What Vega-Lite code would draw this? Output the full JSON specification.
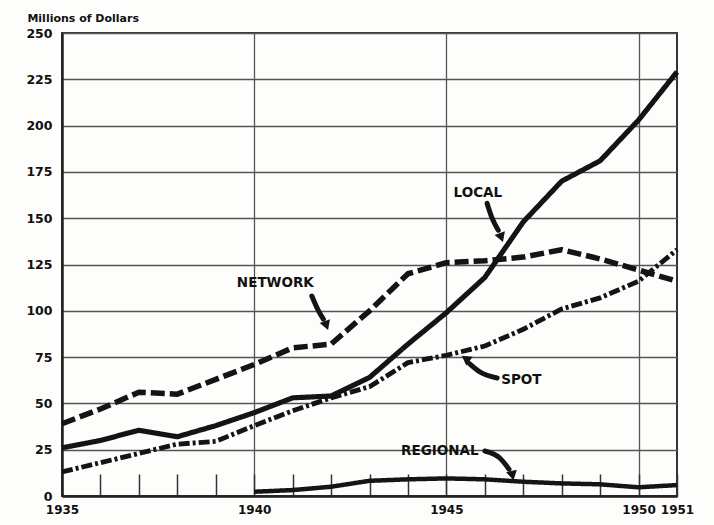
{
  "$schema": "https://vega.github.io/schema/vega-lite/v6.json",
  "width": 615,
  "height": 463,
  "autosize": {"type": "none"},
  "padding": {"left": 62, "top": 33, "right": 37, "bottom": 29},
  "background": "#fdfdfb",
  "config": {
    "view": {"stroke": "#333", "strokeWidth": 2},
    "font": "DejaVu Sans"
  },
  "datasets": {
    "series": [
      {"series": "Network", "year": 1935, "value": 39},
      {"series": "Network", "year": 1936, "value": 47},
      {"series": "Network", "year": 1937, "value": 56},
      {"series": "Network", "year": 1938, "value": 55},
      {"series": "Network", "year": 1939, "value": 63},
      {"series": "Network", "year": 1940, "value": 71},
      {"series": "Network", "year": 1941, "value": 80},
      {"series": "Network", "year": 1942, "value": 82},
      {"series": "Network", "year": 1943, "value": 100},
      {"series": "Network", "year": 1944, "value": 120},
      {"series": "Network", "year": 1945, "value": 126},
      {"series": "Network", "year": 1946, "value": 127},
      {"series": "Network", "year": 1947, "value": 129},
      {"series": "Network", "year": 1948, "value": 133},
      {"series": "Network", "year": 1949, "value": 128},
      {"series": "Network", "year": 1950, "value": 122},
      {"series": "Network", "year": 1951, "value": 116},
      {"series": "Local", "year": 1935, "value": 26},
      {"series": "Local", "year": 1936, "value": 30},
      {"series": "Local", "year": 1937, "value": 35.5},
      {"series": "Local", "year": 1938, "value": 32},
      {"series": "Local", "year": 1939, "value": 38},
      {"series": "Local", "year": 1940, "value": 45},
      {"series": "Local", "year": 1941, "value": 53},
      {"series": "Local", "year": 1942, "value": 54},
      {"series": "Local", "year": 1943, "value": 64},
      {"series": "Local", "year": 1944, "value": 82},
      {"series": "Local", "year": 1945, "value": 99},
      {"series": "Local", "year": 1946, "value": 118},
      {"series": "Local", "year": 1947, "value": 148},
      {"series": "Local", "year": 1948, "value": 170},
      {"series": "Local", "year": 1949, "value": 181},
      {"series": "Local", "year": 1950, "value": 203},
      {"series": "Local", "year": 1951, "value": 229},
      {"series": "Spot", "year": 1935, "value": 13},
      {"series": "Spot", "year": 1936, "value": 18},
      {"series": "Spot", "year": 1937, "value": 23},
      {"series": "Spot", "year": 1938, "value": 28},
      {"series": "Spot", "year": 1939, "value": 29.5},
      {"series": "Spot", "year": 1940, "value": 38},
      {"series": "Spot", "year": 1941, "value": 46},
      {"series": "Spot", "year": 1942, "value": 53},
      {"series": "Spot", "year": 1943, "value": 59},
      {"series": "Spot", "year": 1944, "value": 72},
      {"series": "Spot", "year": 1945, "value": 76},
      {"series": "Spot", "year": 1946, "value": 81},
      {"series": "Spot", "year": 1947, "value": 90},
      {"series": "Spot", "year": 1948, "value": 101},
      {"series": "Spot", "year": 1949, "value": 107},
      {"series": "Spot", "year": 1950, "value": 116},
      {"series": "Spot", "year": 1951, "value": 133},
      {"series": "Regional", "year": 1940, "value": 2.3},
      {"series": "Regional", "year": 1941, "value": 3.2},
      {"series": "Regional", "year": 1942, "value": 5},
      {"series": "Regional", "year": 1943, "value": 8.2},
      {"series": "Regional", "year": 1944, "value": 9},
      {"series": "Regional", "year": 1945, "value": 9.5},
      {"series": "Regional", "year": 1946, "value": 9},
      {"series": "Regional", "year": 1947, "value": 7.7},
      {"series": "Regional", "year": 1948, "value": 6.8},
      {"series": "Regional", "year": 1949, "value": 6.3},
      {"series": "Regional", "year": 1950, "value": 4.7},
      {"series": "Regional", "year": 1951, "value": 5.9}
    ],
    "labels": [
      {"label": "NETWORK", "year": 1940.55, "value": 115},
      {"label": "LOCAL", "year": 1945.82, "value": 163.5},
      {"label": "SPOT", "year": 1946.95, "value": 62.5},
      {"label": "REGIONAL", "year": 1944.83, "value": 24.3}
    ],
    "arrows": [
      {"arrow": "net", "order": 1, "year": 1941.5, "value": 108},
      {"arrow": "net", "order": 2, "year": 1941.66, "value": 100.5},
      {"arrow": "net", "order": 3, "year": 1941.8, "value": 95.5},
      {"arrow": "loc", "order": 1, "year": 1946.06, "value": 158},
      {"arrow": "loc", "order": 2, "year": 1946.19, "value": 150},
      {"arrow": "loc", "order": 3, "year": 1946.35, "value": 143.5},
      {"arrow": "spot", "order": 1, "year": 1946.32, "value": 63.7},
      {"arrow": "spot", "order": 2, "year": 1945.87, "value": 67},
      {"arrow": "spot", "order": 3, "year": 1945.6, "value": 71.5},
      {"arrow": "reg", "order": 1, "year": 1946.0, "value": 24.3},
      {"arrow": "reg", "order": 2, "year": 1946.39, "value": 20.5},
      {"arrow": "reg", "order": 3, "year": 1946.63, "value": 14.5}
    ],
    "heads": [
      {"arrow": "net", "year": 1941.88, "value": 92},
      {"arrow": "loc", "year": 1946.43, "value": 139.5},
      {"arrow": "spot", "year": 1945.5, "value": 74.3},
      {"arrow": "reg", "year": 1946.72, "value": 11}
    ],
    "note": [
      {"text": "Millions of Dollars", "year": 1934.1, "value": 257.5}
    ]
  },
  "encoding": {
    "x": {
      "field": "year",
      "type": "quantitative",
      "scale": {"domain": [1935, 1951], "nice": false, "zero": false},
      "axis": {
        "title": null,
        "values": [1935, 1936, 1937, 1938, 1939, 1940, 1941, 1942, 1943, 1944, 1945, 1946, 1947, 1948, 1949, 1950, 1951],
        "labelExpr": "indexof([1935,1940,1945,1950,1951], datum.value) >= 0 ? datum.label : ''",
        "format": "d",
        "labelOverlap": false,
        "labelFlush": false,
        "labelFont": "DejaVu Sans",
        "labelFontWeight": "bold",
        "labelFontSize": 12,
        "labelColor": "#111",
        "labelPadding": 30,
        "tickSize": -22,
        "tickWidth": 1.5,
        "tickColor": "#333",
        "domainColor": "#222",
        "domainWidth": 2.5,
        "grid": true,
        "gridColor": "#555",
        "gridWidth": 1.3,
        "gridOpacity": {"condition": {"test": "indexof([1940,1945,1950], datum.value) >= 0", "value": 1}, "value": 0}
      }
    },
    "y": {
      "field": "value",
      "type": "quantitative",
      "scale": {"domain": [0, 250], "nice": false},
      "axis": {
        "title": null,
        "values": [0, 25, 50, 75, 100, 125, 150, 175, 200, 225, 250],
        "labelFont": "DejaVu Sans",
        "labelFontWeight": "bold",
        "labelFontSize": 12.5,
        "labelColor": "#111",
        "labelPadding": 10,
        "ticks": false,
        "domainColor": "#222",
        "domainWidth": 2.5,
        "grid": true,
        "gridColor": "#555",
        "gridWidth": 1.3
      }
    }
  },
  "layer": [
    {
      "data": {"name": "series"},
      "mark": {"type": "line", "strokeCap": "butt", "strokeJoin": "round", "color": "#141414"},
      "encoding": {
        "detail": {"field": "series", "type": "nominal"},
        "strokeDash": {
          "field": "series",
          "type": "nominal",
          "scale": {"domain": ["Network", "Local", "Spot", "Regional"], "range": [[14, 5], [1, 0], [11, 3, 3, 3], [1, 0]]},
          "legend": null
        },
        "strokeWidth": {
          "field": "series",
          "type": "nominal",
          "scale": {"domain": ["Network", "Local", "Spot", "Regional"], "range": [5.5, 4.5, 4.5, 2.3]},
          "legend": null
        }
      }
    },
    {
      "data": {"name": "labels"},
      "mark": {"type": "text", "font": "DejaVu Sans", "fontWeight": "bold", "fontSize": 13.5, "color": "#111", "align": "center", "baseline": "middle"},
      "encoding": {"text": {"field": "label"}}
    },
    {
      "data": {"name": "note"},
      "mark": {"type": "text", "font": "DejaVu Sans", "fontWeight": "bold", "fontSize": 11, "color": "#111", "align": "left", "baseline": "middle"},
      "encoding": {"text": {"field": "text"}}
    },
    {
      "data": {"name": "arrows"},
      "mark": {"type": "line", "interpolate": "monotone", "strokeWidth": 5, "color": "#141414", "strokeCap": "round"},
      "encoding": {
        "detail": {"field": "arrow", "type": "nominal"},
        "order": {"field": "order", "type": "quantitative"}
      }
    },
    {
      "data": {"name": "heads"},
      "transform": [{"filter": "datum.arrow === 'net' || datum.arrow === 'loc'"}],
      "mark": {"type": "point", "shape": "triangle-down", "filled": true, "size": 120, "color": "#141414", "opacity": 1, "angle": -20}
    },
    {
      "data": {"name": "heads"},
      "transform": [{"filter": "datum.arrow === 'reg'"}],
      "mark": {"type": "point", "shape": "triangle-down", "filled": true, "size": 120, "color": "#141414", "opacity": 1, "angle": -12}
    },
    {
      "data": {"name": "heads"},
      "transform": [{"filter": "datum.arrow === 'spot'"}],
      "mark": {"type": "point", "shape": "triangle-up", "filled": true, "size": 120, "color": "#141414", "opacity": 1, "angle": -55}
    }
  ]
}
